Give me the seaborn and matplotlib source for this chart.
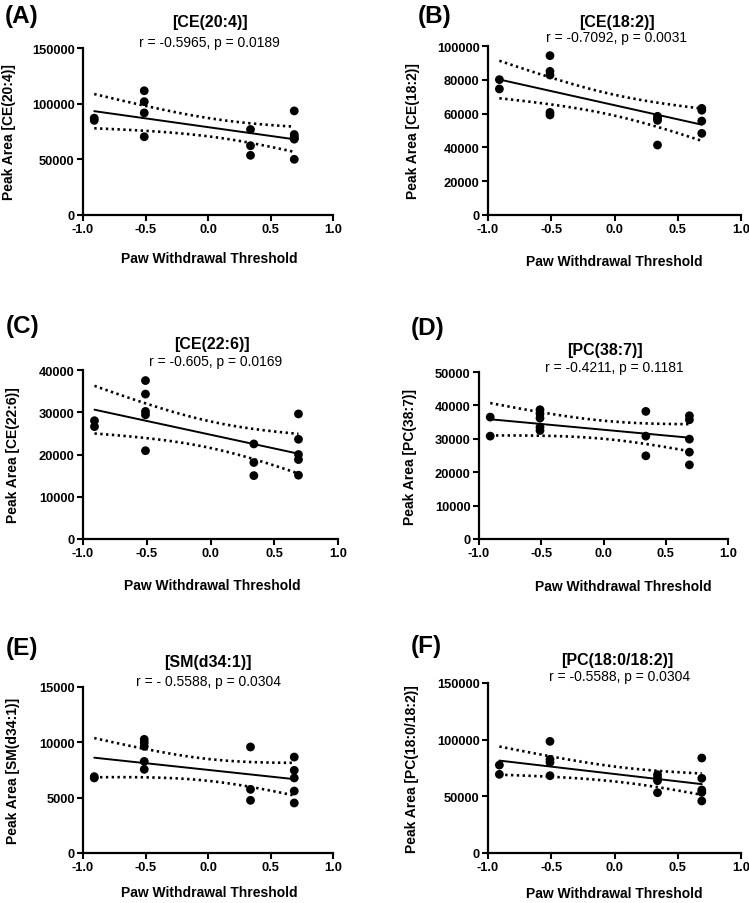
import numpy as np
import pandas as pd
import matplotlib
matplotlib.use('Agg')
import matplotlib.pyplot as plt
import matplotlib.ticker as mticker
import seaborn as sns

# paw withdrawal threshold (x) and peak area (y) for each lipid
ce204_x = [-0.91, -0.91, -0.51, -0.51, -0.51, -0.51, 0.34, 0.34, 0.34, 0.69, 0.69, 0.69, 0.69, 0.69, 0.69]
ce204_y = [85000, 87000, 111600, 101800, 91700, 70300, 76800, 62200, 53600, 93500, 72300, 70300, 69000, 68100, 50000]

ce182_x = [-0.91, -0.91, -0.51, -0.51, -0.51, -0.51, -0.51, 0.34, 0.34, 0.34, 0.34, 0.69, 0.69, 0.69, 0.69]
ce182_y = [80100, 74600, 94300, 85000, 82800, 60700, 59200, 58400, 57200, 56000, 41400, 63100, 62000, 55600, 48300]

ce226_x = [-0.91, -0.91, -0.51, -0.51, -0.51, -0.51, -0.51, 0.34, 0.34, 0.34, 0.69, 0.69, 0.69, 0.69, 0.69]
ce226_y = [28000, 26600, 37500, 34300, 30200, 29400, 20900, 22500, 18100, 15000, 29600, 23600, 20000, 18800, 15100]

pc387_x = [-0.91, -0.91, -0.51, -0.51, -0.51, -0.51, -0.51, 0.34, 0.34, 0.34, 0.69, 0.69, 0.69, 0.69, 0.69]
pc387_y = [36500, 30800, 38700, 37500, 36200, 33500, 32500, 38200, 30800, 24900, 36900, 35700, 29900, 26000, 22200]

sm341_x = [-0.91, -0.91, -0.51, -0.51, -0.51, -0.51, -0.51, 0.34, 0.34, 0.34, 0.69, 0.69, 0.69, 0.69, 0.69]
sm341_y = [6900, 6780, 10270, 9970, 9640, 8280, 7560, 9580, 5750, 4760, 8670, 7470, 6780, 5600, 4520]

pc180_x = [-0.91, -0.91, -0.51, -0.51, -0.51, -0.51, 0.34, 0.34, 0.34, 0.34, 0.69, 0.69, 0.69, 0.69, 0.69]
pc180_y = [77600, 69400, 98500, 82600, 80000, 68200, 69100, 66300, 63800, 53200, 83800, 65900, 55600, 53500, 45900]

letters = ['(A)', '(B)', '(C)', '(D)', '(E)', '(F)']
lipids = ['[CE(20:4)]', '[CE(18:2)]', '[CE(22:6)]', '[PC(38:7)]', '[SM(d34:1)]', '[PC(18:0/18:2)]']
stats_txt = ['r = -0.5965, p = 0.0189', 'r = -0.7092, p = 0.0031', 'r = -0.605, p = 0.0169',
             'r = -0.4211, p = 0.1181', 'r = - 0.5588, p = 0.0304', 'r = -0.5588, p = 0.0304']
y_tops = [150000, 100000, 40000, 50000, 15000, 150000]
y_steps = [50000, 20000, 10000, 10000, 5000, 50000]
xs = [ce204_x, ce182_x, ce226_x, pc387_x, sm341_x, pc180_x]
ys = [ce204_y, ce182_y, ce226_y, pc387_y, sm341_y, pc180_y]

# layout in pixels: axes box (left, right, top, bottom)
W, H = 749, 904
boxes = [(83, 333, 49, 216), (488, 741, 47, 216),
         (83, 338, 371, 540), (479, 728, 373, 540),
         (83, 333, 688, 854), (488, 741, 684, 854)]
letter_pos = [(5, 16), (418, 16), (6, 326), (411, 328), (6, 649), (411, 647)]
title_pos = [(210, 23), (617, 22), (212, 345), (605, 350), (208, 663), (617, 660)]
sub_pos = [(209, 43), (616, 38), (216, 362), (614, 368), (209, 682), (620, 677)]
xlab_pos = [(209, 259), (614, 262), (212, 586), (623, 587), (209, 893), (614, 894)]
ylab_pos = [(9, 132), (413, 131), (13, 455), (410, 457), (13, 771), (412, 769)]

sns.set_style('ticks')
plt.rcParams['font.family'] = ['Liberation Sans', 'DejaVu Sans']
plt.rcParams['axes.unicode_minus'] = False
plt.rcParams['axes.linewidth'] = 1.6
for k in ['text.color', 'axes.labelcolor', 'xtick.color', 'ytick.color', 'axes.edgecolor']:
    plt.rcParams[k] = 'black'

fig = plt.figure(figsize=(W / 100, H / 100), dpi=100)

def fx(p):
    return p / W

def fy(p):
    return 1 - p / H

T_CRIT = 2.1604  # t(0.975, df=13)

for i in range(6):
    l, r, t, b = boxes[i]
    ax = fig.add_axes([fx(l), fy(b), (r - l) / W, (b - t) / H])
    df = pd.DataFrame({'x': xs[i], 'y': ys[i]})

    sns.regplot(data=df, x='x', y='y', ax=ax, ci=None, truncate=True,
                scatter_kws={'s': 40, 'color': 'black', 'edgecolor': 'none', 'alpha': 1, 'zorder': 3},
                line_kws={'color': 'black', 'lw': 1.4})

    # 95% confidence band of the fit
    x = df['x'].values
    y = df['y'].values
    n = len(x)
    slope, icpt = np.polyfit(x, y, 1)
    resid = y - (slope * x + icpt)
    s = np.sqrt(np.sum(resid ** 2) / (n - 2))
    sxx = np.sum((x - x.mean()) ** 2)
    xg = np.linspace(x.min(), x.max(), 100)
    yg = slope * xg + icpt
    half = T_CRIT * s * np.sqrt(1 / n + (xg - x.mean()) ** 2 / sxx)
    for band in (yg + half, yg - half):
        ax.plot(xg, band, color='black', lw=1.9, linestyle=(0, (0.9, 1.3)))

    ax.set_xlim(-1.0, 1.0)
    ax.set_ylim(0, y_tops[i])
    ax.set_xticks([-1.0, -0.5, 0.0, 0.5, 1.0])
    ax.set_yticks(np.arange(0, y_tops[i] + 1, y_steps[i]))
    ax.xaxis.set_major_formatter(mticker.FormatStrFormatter('%.1f'))
    ax.yaxis.set_major_formatter(mticker.FormatStrFormatter('%d'))
    ax.tick_params(direction='out', length=4, width=1.5, labelsize=9.3, pad=2)
    for lab in ax.get_xticklabels() + ax.get_yticklabels():
        lab.set_fontweight('bold')
    sns.despine(ax=ax)

    ax.set_xlabel('Paw Withdrawal Threshold', fontsize=10, fontweight='bold', va='center')
    ax.xaxis.set_label_coords(fx(xlab_pos[i][0]), fy(xlab_pos[i][1]), transform=fig.transFigure)
    ax.set_ylabel('Peak Area ' + lipids[i], fontsize=10, fontweight='bold', va='center')
    ax.yaxis.set_label_coords(fx(ylab_pos[i][0]), fy(ylab_pos[i][1]), transform=fig.transFigure)

    fig.text(fx(letter_pos[i][0]), fy(letter_pos[i][1]), letters[i], fontsize=17.5,
             fontweight='bold', ha='left', va='center')
    fig.text(fx(title_pos[i][0]), fy(title_pos[i][1]), lipids[i], fontsize=11.5,
             fontweight='bold', ha='center', va='center')
    fig.text(fx(sub_pos[i][0]), fy(sub_pos[i][1]), stats_txt[i], fontsize=10,
             ha='center', va='center')

fig.savefig('out.png', dpi=100)
